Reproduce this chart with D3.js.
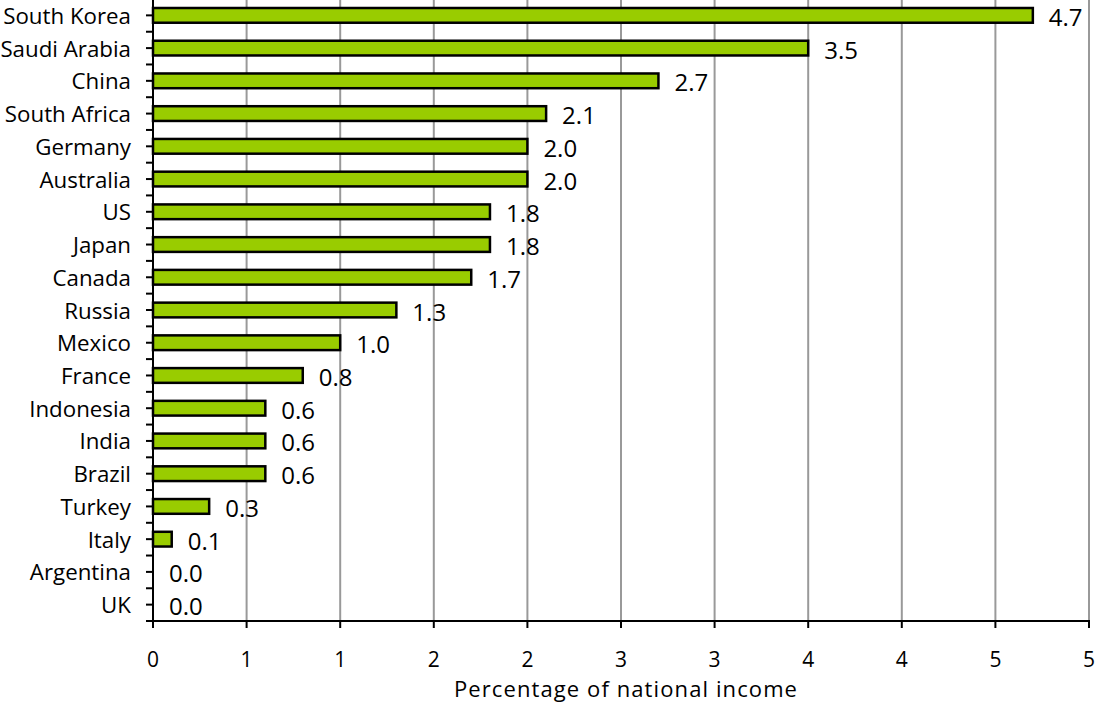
<!DOCTYPE html>
<html>
<head>
<meta charset="utf-8">
<script src="https://cdn.jsdelivr.net/npm/d3@7/dist/d3.min.js"></script>
<style>
  html, body { margin: 0; padding: 0; background: #fff; }
  svg { display: block; }
  text { font-family: "Open Sans", "DejaVu Sans", sans-serif; fill: #000; }
</style>
</head>
<body>
<svg id="chart" width="1099" height="704"></svg>
<script>
const categories = ["South Korea","Saudi Arabia","China","South Africa","Germany","Australia","US","Japan","Canada","Russia","Mexico","France","Indonesia","India","Brazil","Turkey","Italy","Argentina","UK"];
const values = [4.7,3.5,2.7,2.1,2.0,2.0,1.8,1.8,1.7,1.3,1.0,0.8,0.6,0.6,0.6,0.3,0.1,0.0,0.0];
const tickValues = [0,0.5,1,1.5,2,2.5,3,3.5,4,4.5,5];
const tickLabels = ["0","1","1","2","2","3","3","4","4","5","5"];
const axisTitle = "Percentage of national income";

(function () {
const svg = d3.select("#chart");
const plotLeft = 153, plotRight = 1089, plotTop = -1, plotBottom = 621;

const x = d3.scaleLinear().domain([0, 5]).range([plotLeft, plotRight]);
const y = d3.scaleBand().domain(categories).range([plotTop, plotBottom]).paddingInner(0.55).paddingOuter(0.275);
const step = y.step();

// gridlines
svg.append("g").selectAll("line").data(tickValues.slice(1)).join("line")
  .attr("x1", d => x(d)).attr("x2", d => x(d))
  .attr("y1", 0).attr("y2", plotBottom)
  .attr("stroke", "#999").attr("stroke-width", 2);

// bars
const data = categories.map((c, i) => ({c, v: values[i]}));
svg.append("g").selectAll("rect").data(data.filter(d => d.v > 0)).join("rect")
  .attr("x", x(0))
  .attr("y", d => y(d.c))
  .attr("width", d => x(d.v) - x(0))
  .attr("height", y.bandwidth())
  .attr("fill", "#99cc00")
  .attr("stroke", "#000")
  .attr("stroke-width", 2.5);

// value labels
svg.append("g").selectAll("text").data(data).join("text")
  .attr("x", d => x(d.v) + 16)
  .attr("y", d => y(d.c) + y.bandwidth() / 2 + 10.5)
  .attr("font-size", 24)
  .text(d => d.v.toFixed(1));

// y axis line
svg.append("line").attr("x1", plotLeft).attr("x2", plotLeft).attr("y1", 0).attr("y2", plotBottom + 1)
  .attr("stroke", "#000").attr("stroke-width", 2);

// y ticks (centers and boundaries)
const yTicks = [];
categories.forEach(c => {
  const cy = y(c) + y.bandwidth() / 2;
  yTicks.push(cy);
  yTicks.push(cy + step / 2);
});
svg.append("g").selectAll("line").data(yTicks).join("line")
  .attr("x1", plotLeft - 7).attr("x2", plotLeft)
  .attr("y1", d => d).attr("y2", d => d)
  .attr("stroke", "#000").attr("stroke-width", 2);

// category labels
svg.append("g").selectAll("text").data(categories).join("text")
  .attr("x", 131)
  .attr("y", d => y(d) + y.bandwidth() / 2 + 8.5)
  .attr("text-anchor", "end")
  .attr("font-size", 22.3)
  .text(d => d);

// x axis
svg.append("line").attr("x1", plotLeft - 1).attr("x2", plotRight + 1).attr("y1", plotBottom).attr("y2", plotBottom)
  .attr("stroke", "#000").attr("stroke-width", 2);
svg.append("g").selectAll("line").data(tickValues).join("line")
  .attr("x1", d => x(d)).attr("x2", d => x(d))
  .attr("y1", plotBottom).attr("y2", plotBottom + 7)
  .attr("stroke", "#000").attr("stroke-width", 2);
svg.append("g").selectAll("text").data(tickValues).join("text")
  .attr("x", d => x(d))
  .attr("y", 667)
  .attr("text-anchor", "middle")
  .attr("font-size", 21)
  .text((d, i) => tickLabels[i]);

svg.append("text")
  .attr("x", 626).attr("y", 697)
  .attr("text-anchor", "middle")
  .attr("font-size", 22)
  .attr("letter-spacing", 1.1)
  .text(axisTitle);
})();
</script>
</body>
</html>
